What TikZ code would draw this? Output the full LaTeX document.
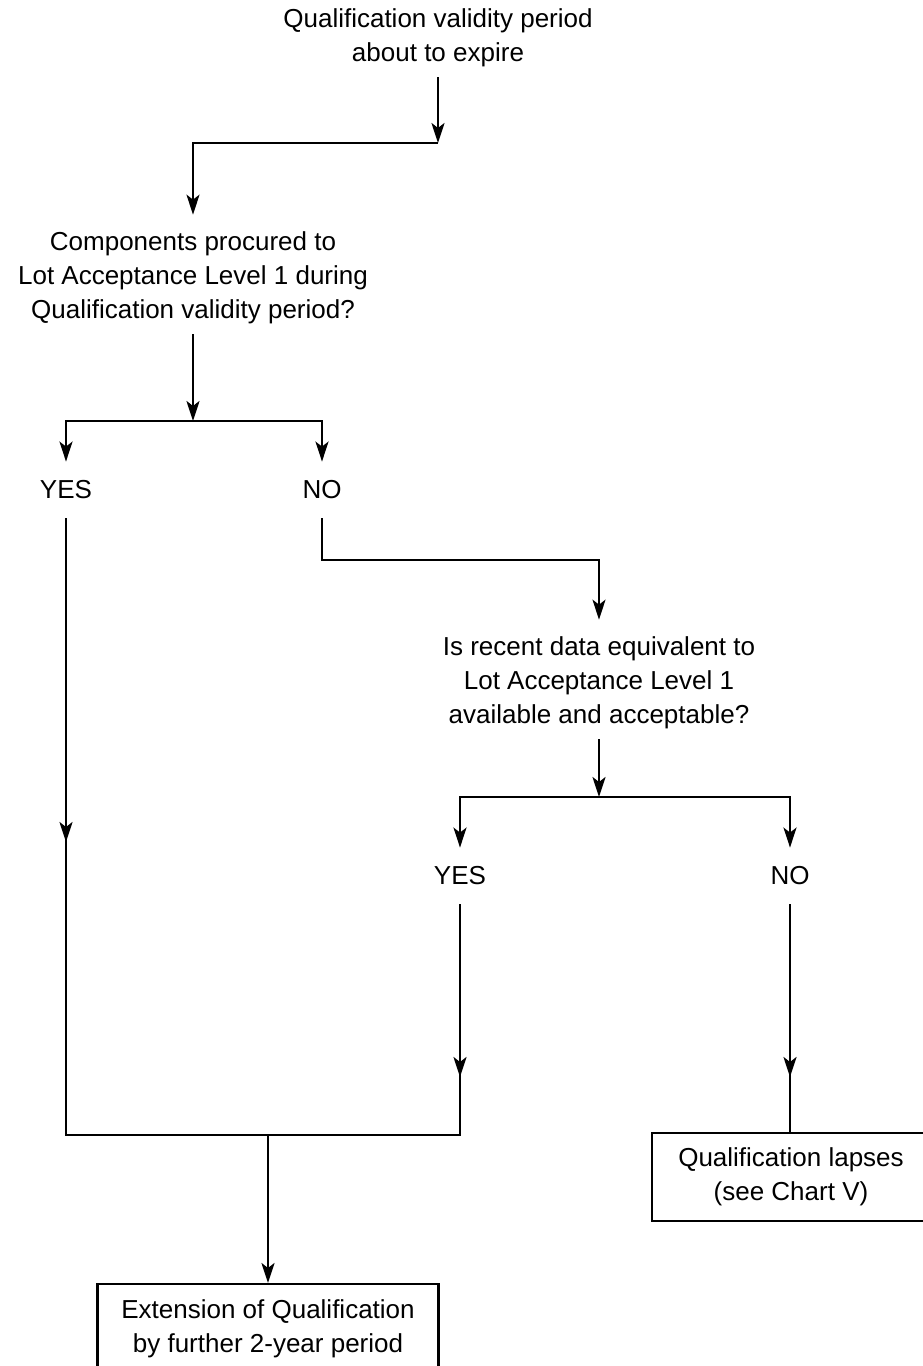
\documentclass[tikz,border=0pt]{standalone}
\usepackage{fontspec}
\setmainfont{Liberation Sans}
\usetikzlibrary{arrows.meta,positioning}

\begin{document}
\begin{tikzpicture}[x=1pt, y=-1pt,
    every node/.style={font=\fontsize{26}{34}\selectfont, align=center},
    stmt/.style={inner xsep=0pt, inner ysep=10pt},
    answer/.style={inner xsep=0pt, inner ysep=19pt},
    outcome/.style={draw, line width=2.4pt, inner xsep=0pt},
    flow/.style={line width=2.4pt},
    arr/.style={flow, -{Stealth[length=20pt, width=13pt, inset=5pt]}}]
\path[use as bounding box, clip] (0,0) rectangle (923,1366);
% Questions
\node[stmt] (expire) at (438,38) {Qualification validity period\\about to expire};
\node[stmt] (procured) at (193,278) {Components procured to\\Lot Acceptance Level 1 during\\Qualification validity period?};
\node[stmt] (recent) at (599,683) {Is recent data equivalent to\\Lot Acceptance Level 1\\available and acceptable?};
% Answers
\node[answer] (yesA) at (66,490) {YES};
\node[answer] (noA) at (322,490) {NO};
\node[answer] (yesB) at (460,876) {YES};
\node[answer] (noB) at (790,876) {NO};
% Outcomes
\node[outcome, minimum width=278pt, minimum height=88pt] (lapses) at (791,1177) {Qualification lapses\\(see Chart V)};
\node[outcome, anchor=north, minimum width=341pt, inner ysep=15pt] (extend) at (268,1283)
  {\parbox[t][110pt][t]{330pt}{\centering Extension of Qualification\\by further 2-year period}};
% Junctions
\coordinate (j1) at (438,143);
\coordinate (j2) at (193,421);
\coordinate (j3) at (599,560);
\coordinate (j4) at (599,797);
\coordinate (m1) at (66,842);
\coordinate (m2) at (460,1077);
\coordinate (m3) at (790,1077);
\coordinate (j5) at (66,1135);
\coordinate (j6) at (460,1135);
% Arrows
\draw[arr] (expire) -- (j1);
\draw[arr, shorten >=7pt] (j1) -| (procured);
\draw[arr] (procured) -- (j2);
\draw[arr] (j2) -| (yesA);
\draw[arr] (j2) -| (noA);
\draw[arr] (yesA) -- (m1);
\draw[arr, shorten >=7pt] (noA) |- (j3) -- (recent);
\draw[arr] (recent) -- (j4);
\draw[arr] (j4) -| (yesB);
\draw[arr] (j4) -| (noB);
\draw[arr] (yesB) -- (m2);
\draw[arr] (noB) -- (m3);
\draw[flow] ([yshift=12pt]m1) -- (j5) -- (j6) -- ([yshift=12pt]m2);
\draw[flow] ([yshift=12pt]m3) -- (m3 |- lapses.north);
\draw[arr] (j5 -| extend) -- (extend);
\end{tikzpicture}
\end{document}
